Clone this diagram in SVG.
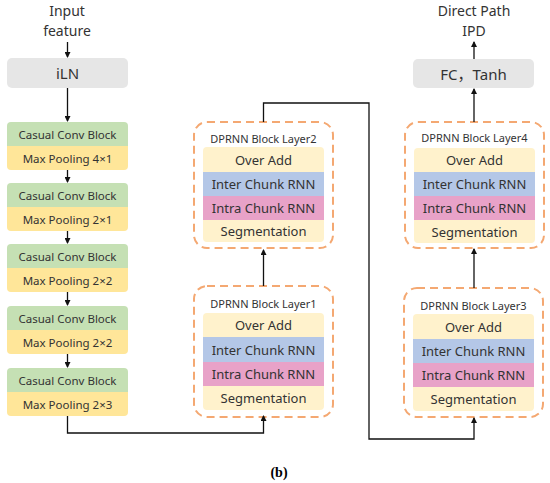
<svg xmlns="http://www.w3.org/2000/svg" width="550" height="483" viewBox="0 0 550 483">
<style>
text{font-family:"Noto Sans","Noto Sans CJK SC",sans-serif;fill:#333;text-anchor:middle;dominant-baseline:central}
.io{font-size:15px}
.lbl{font-size:14px}
.conv{font-size:11.5px}
.row{font-size:13px}
.ttl{font-size:11px}
.green{fill:#C5E0B4}
.ypool{fill:#FFE699}
.gray{fill:#E6E6E6}
.yl{fill:#FFF2CC}
.bl{fill:#B4C7E7}
.pk{fill:#E8A2C8}
.dash{fill:#fff;stroke:#F4A872;stroke-width:2;stroke-dasharray:8 5}
.ln{fill:none;stroke:#111;stroke-width:1.3}
.cap{font-family:"Liberation Serif",serif;font-weight:bold;font-size:14px;fill:#000}
</style>
<defs>
<marker id="ah" markerWidth="6" markerHeight="6" refX="5" refY="3" orient="auto" markerUnits="userSpaceOnUse">
<path d="M0,0 L6,3 L0,6 Z" fill="#111"/>
</marker>
</defs>

<g id="input-label"><text class="lbl" x="67" y="10.5">Input</text><text class="lbl" x="67" y="30">feature</text></g>
<g id="iln"><rect class="gray" x="7" y="58" width="121" height="30" rx="5"/><text class="io" x="67.5" y="73">iLN</text></g>

<g id="conv1"><path class="green" d="M7,146 V126 a4,4 0 0 1 4,-4 H124 a4,4 0 0 1 4,4 V146 Z"/><path class="ypool" d="M7,146 H128 V166 a4,4 0 0 1 -4,4 H11 a4,4 0 0 1 -4,-4 Z"/><text class="conv" x="67.5" y="134">Casual Conv Block</text><text class="conv" x="67.5" y="158">Max Pooling 4×1</text></g>
<g id="conv2"><path class="green" d="M7,207 V187 a4,4 0 0 1 4,-4 H124 a4,4 0 0 1 4,4 V207 Z"/><path class="ypool" d="M7,207 H128 V227 a4,4 0 0 1 -4,4 H11 a4,4 0 0 1 -4,-4 Z"/><text class="conv" x="67.5" y="195">Casual Conv Block</text><text class="conv" x="67.5" y="219">Max Pooling 2×1</text></g>
<g id="conv3"><path class="green" d="M7,268 V248 a4,4 0 0 1 4,-4 H124 a4,4 0 0 1 4,4 V268 Z"/><path class="ypool" d="M7,268 H128 V288 a4,4 0 0 1 -4,4 H11 a4,4 0 0 1 -4,-4 Z"/><text class="conv" x="67.5" y="256">Casual Conv Block</text><text class="conv" x="67.5" y="280">Max Pooling 2×2</text></g>
<g id="conv4"><path class="green" d="M7,330 V310 a4,4 0 0 1 4,-4 H124 a4,4 0 0 1 4,4 V330 Z"/><path class="ypool" d="M7,330 H128 V350 a4,4 0 0 1 -4,4 H11 a4,4 0 0 1 -4,-4 Z"/><text class="conv" x="67.5" y="318">Casual Conv Block</text><text class="conv" x="67.5" y="342">Max Pooling 2×2</text></g>
<g id="conv5"><path class="green" d="M7,392 V372 a4,4 0 0 1 4,-4 H124 a4,4 0 0 1 4,4 V392 Z"/><path class="ypool" d="M7,392 H128 V412 a4,4 0 0 1 -4,4 H11 a4,4 0 0 1 -4,-4 Z"/><text class="conv" x="67.5" y="380">Casual Conv Block</text><text class="conv" x="67.5" y="404">Max Pooling 2×3</text></g>

<g id="dprnn1"><rect class="dash" x="194" y="286" width="139" height="131" rx="13"/><text class="ttl" x="263.5" y="303">DPRNN Block Layer1</text>
<path class="yl" d="M203,337 V317 a4,4 0 0 1 4,-4 H320 a4,4 0 0 1 4,4 V337 Z"/><rect class="bl" x="203" y="337" width="121" height="25"/><rect class="pk" x="203" y="362" width="121" height="24"/><path class="yl" d="M203,386 H324 V406 a4,4 0 0 1 -4,4 H207 a4,4 0 0 1 -4,-4 Z"/>
<text class="row" x="263.5" y="325">Over Add</text><text class="row" x="263.5" y="349.5">Inter Chunk RNN</text><text class="row" x="263.5" y="374">Intra Chunk RNN</text><text class="row" x="263.5" y="398">Segmentation</text></g>

<g id="dprnn2"><rect class="dash" x="194" y="122" width="139" height="126" rx="13"/><text class="ttl" x="263.5" y="138">DPRNN Block Layer2</text>
<path class="yl" d="M203,172 V151 a4,4 0 0 1 4,-4 H320 a4,4 0 0 1 4,4 V172 Z"/><rect class="bl" x="203" y="172" width="121" height="24"/><rect class="pk" x="203" y="196" width="121" height="24"/><path class="yl" d="M203,220 H324 V238 a4,4 0 0 1 -4,4 H207 a4,4 0 0 1 -4,-4 Z"/>
<text class="row" x="263.5" y="159.5">Over Add</text><text class="row" x="263.5" y="184">Inter Chunk RNN</text><text class="row" x="263.5" y="208">Intra Chunk RNN</text><text class="row" x="263.5" y="231">Segmentation</text></g>

<g id="dprnn3"><rect class="dash" x="404" y="288" width="139" height="129" rx="13"/><text class="ttl" x="473.5" y="305">DPRNN Block Layer3</text>
<path class="yl" d="M413,339 V318 a4,4 0 0 1 4,-4 H530 a4,4 0 0 1 4,4 V339 Z"/><rect class="bl" x="413" y="339" width="121" height="24"/><rect class="pk" x="413" y="363" width="121" height="24"/><path class="yl" d="M413,387 H534 V407 a4,4 0 0 1 -4,4 H417 a4,4 0 0 1 -4,-4 Z"/>
<text class="row" x="473.5" y="326.5">Over Add</text><text class="row" x="473.5" y="351">Inter Chunk RNN</text><text class="row" x="473.5" y="375">Intra Chunk RNN</text><text class="row" x="473.5" y="399">Segmentation</text></g>

<g id="dprnn4"><rect class="dash" x="405" y="122" width="139" height="126" rx="13"/><text class="ttl" x="474.5" y="137">DPRNN Block Layer4</text>
<path class="yl" d="M414,172 V152 a4,4 0 0 1 4,-4 H531 a4,4 0 0 1 4,4 V172 Z"/><rect class="bl" x="414" y="172" width="121" height="24"/><rect class="pk" x="414" y="196" width="121" height="24"/><path class="yl" d="M414,220 H535 V239 a4,4 0 0 1 -4,4 H418 a4,4 0 0 1 -4,-4 Z"/>
<text class="row" x="474.5" y="160">Over Add</text><text class="row" x="474.5" y="184">Inter Chunk RNN</text><text class="row" x="474.5" y="208">Intra Chunk RNN</text><text class="row" x="474.5" y="231.5">Segmentation</text></g>

<g id="fc"><rect class="gray" x="413" y="59" width="121" height="29" rx="5"/><text class="io" x="473.5" y="73.5">FC，Tanh</text></g>
<g id="output-label"><text class="lbl" x="474" y="10.5">Direct Path</text><text class="lbl" x="474" y="30">IPD</text></g>

<g id="connectors">
<line class="ln" x1="67.5" y1="42" x2="67.5" y2="57" marker-end="url(#ah)"/>
<line class="ln" x1="67.5" y1="88" x2="67.5" y2="121" marker-end="url(#ah)"/>
<line class="ln" x1="67.5" y1="170" x2="67.5" y2="182" marker-end="url(#ah)"/>
<line class="ln" x1="67.5" y1="231" x2="67.5" y2="243" marker-end="url(#ah)"/>
<line class="ln" x1="67.5" y1="292" x2="67.5" y2="305" marker-end="url(#ah)"/>
<line class="ln" x1="67.5" y1="354" x2="67.5" y2="367" marker-end="url(#ah)"/>
<polyline class="ln" points="67.5,416 67.5,433 263.5,433 263.5,416" marker-end="url(#ah)"/>
<line class="ln" x1="263.5" y1="286" x2="263.5" y2="250" marker-end="url(#ah)"/>
<polyline class="ln" points="263.5,122 263.5,103 369,103 369,439 474,439 474,418" marker-end="url(#ah)"/>
<line class="ln" x1="474" y1="288" x2="474" y2="249" marker-end="url(#ah)"/>
<line class="ln" x1="474" y1="122" x2="474" y2="89" marker-end="url(#ah)"/>
<line class="ln" x1="474" y1="59" x2="474" y2="42" marker-end="url(#ah)"/>
</g>
<text class="cap" x="279" y="472">(b)</text>
</svg>
